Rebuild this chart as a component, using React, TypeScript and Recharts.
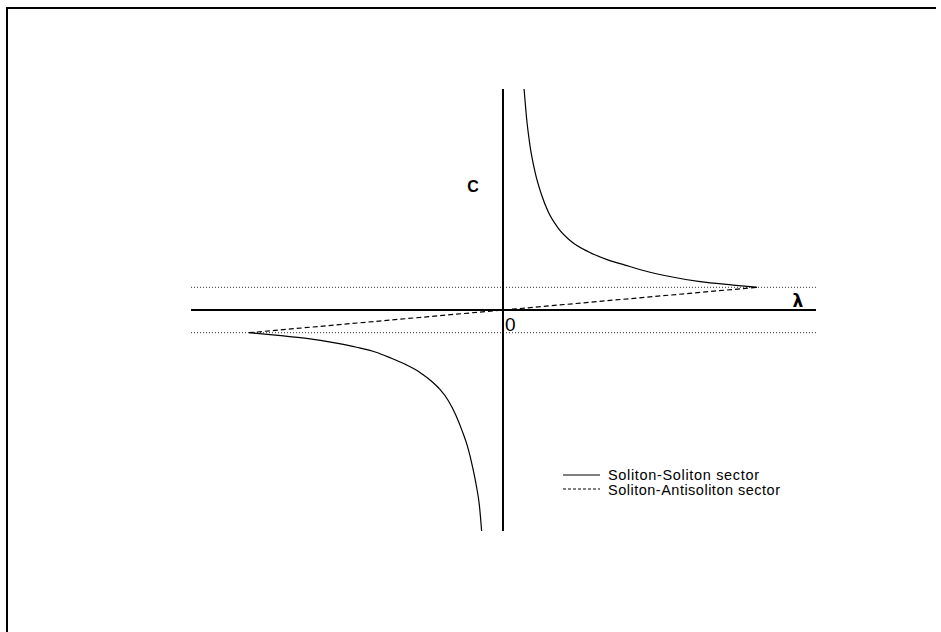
import React from 'react';
import { LineChart, Line, XAxis, YAxis, ReferenceLine } from 'recharts';

// lambda / C values (cusps at lambda = ±1, C = ±1)
const ssUpperLambda = [0.083, 0.093, 0.106, 0.126, 0.152, 0.178, 0.218, 0.27, 0.336, 0.415, 0.48, 0.56, 0.646, 0.776, 0.906, 1.0];
const ssUpperC = [9.74, 8.44, 7.27, 6.09, 5.07, 4.33, 3.6, 3.01, 2.57, 2.2, 1.98, 1.72, 1.5, 1.25, 1.1, 1.0];

const ssLowerLambda = [-1.0, -0.885, -0.773, -0.65, -0.576, -0.5, -0.445, -0.38, -0.327, -0.28, -0.248, -0.215, -0.185, -0.16, -0.14, -0.12, -0.104, -0.093, -0.084];
const ssLowerC = [-1.0, -1.12, -1.25, -1.47, -1.64, -1.86, -2.1, -2.42, -2.75, -3.15, -3.5, -4.0, -4.65, -5.35, -6.0, -6.9, -7.8, -8.6, -9.75];

const saLambda = [-1.0, -0.5, 0, 0.5, 1.0];
const saC = [-1.0, -0.5, 0, 0.5, 1.0];

const legendLabels = ['Soliton-Soliton sector', 'Soliton-Antisoliton sector'];

const toRows = (xs: number[], ys: number[]) => xs.map((x, i) => ({ x, c: ys[i] }));

const W = 936;
const H = 620;

export default function App() {
  React.useLayoutEffect(() => {
    document.documentElement.style.overflow = 'hidden';
    document.body.style.overflow = 'hidden';
  }, []);

  const upper = toRows(ssUpperLambda, ssUpperC);
  const lower = toRows(ssLowerLambda, ssLowerC);
  const anti = toRows(saLambda, saC);

  return (
    <div style={{ position: 'absolute', left: 0, top: 0, width: W, height: H }}>
      <div style={{ position: 'absolute', left: 0, top: 0 }}>
        <LineChart width={W} height={H} margin={{ top: 89, right: 120, bottom: 89, left: 191 }} accessibilityLayer={false}>
          <XAxis type="number" dataKey="x" domain={[-1.228, 1.232]} hide allowDataOverflow />
          <YAxis type="number" domain={[-9.74, 9.74]} hide allowDataOverflow />
          <ReferenceLine y={1} stroke="#333" strokeDasharray="1 2" />
          <ReferenceLine y={-1} stroke="#333" strokeDasharray="1 2" />
          <ReferenceLine y={0} stroke="#000" strokeWidth={2} />
          <ReferenceLine x={0} stroke="#000" strokeWidth={2} />
          <Line data={upper} dataKey="c" type="monotone" stroke="#000" strokeWidth={1.2} dot={false} isAnimationActive={false} />
          <Line data={lower} dataKey="c" type="monotone" stroke="#000" strokeWidth={1.2} dot={false} isAnimationActive={false} />
          <Line data={anti} dataKey="c" type="linear" stroke="#000" strokeWidth={1.2} strokeDasharray="5 3" dot={false} isAnimationActive={false} />
        </LineChart>
      </div>
      <svg width={W} height={632} style={{ position: 'absolute', left: 0, top: 0, pointerEvents: 'none' }}>
        <line x1={7} x2={7} y1={7} y2={632} stroke="#000" strokeWidth={2} />
        <line x1={6} x2={W} y1={8} y2={8} stroke="#000" strokeWidth={2} />
        <text x={473} y={186} textAnchor="middle" dominantBaseline="central" fontFamily="Liberation Sans, Arial" fontWeight="bold" fontSize={16}>C</text>
        <text x={798} y={301} textAnchor="middle" dominantBaseline="central" fontFamily="DejaVu Sans" fontWeight="bold" fontSize={17}>λ</text>
        <text x={505} y={324} dominantBaseline="central" fontFamily="Liberation Sans, Arial" fontSize={19}>0</text>
        <line x1={563} x2={600} y1={475} y2={475} stroke="#000" strokeWidth={1} />
        <line x1={563} x2={600} y1={489} y2={489} stroke="#000" strokeWidth={1} strokeDasharray="3 2" />
        <text x={608} y={475} dominantBaseline="central" fontFamily="Liberation Sans, Arial" fontSize={14.5} textLength={151}>{legendLabels[0]}</text>
        <text x={608} y={490} dominantBaseline="central" fontFamily="Liberation Sans, Arial" fontSize={14.5} textLength={172}>{legendLabels[1]}</text>
      </svg>
    </div>
  );
}
